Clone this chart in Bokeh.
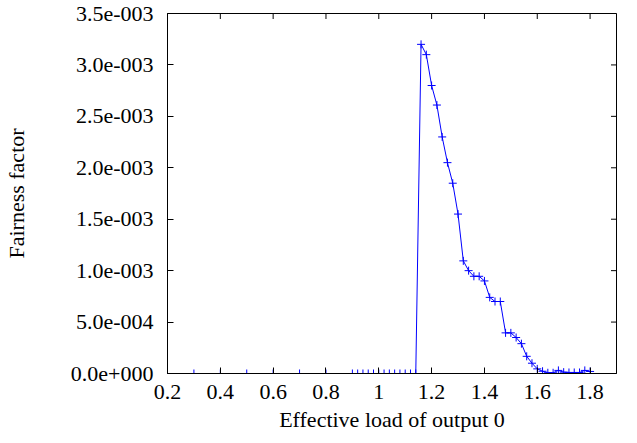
from bokeh.plotting import figure
from bokeh.models import FixedTicker, CustomJSTickFormatter, Range1d
from bokeh.embed import file_html
from bokeh.resources import INLINE

# ---- data ----
load = [0.2, 0.3, 0.4, 0.5, 0.6, 0.7, 0.8,
        0.9, 0.92, 0.94, 0.96, 0.98, 1.0, 1.02, 1.04, 1.06, 1.08, 1.10, 1.12, 1.14,
        1.16, 1.18, 1.20, 1.22, 1.24, 1.26, 1.28, 1.30, 1.32, 1.34, 1.36, 1.38,
        1.40, 1.42, 1.44, 1.46, 1.48, 1.50, 1.52, 1.54, 1.56, 1.58, 1.60, 1.62,
        1.64, 1.66, 1.68, 1.70, 1.72, 1.74, 1.76, 1.78, 1.80]
fairness = [0, 0, 0, 0, 0, 0, 0,
            0, 0, 0, 0, 0, 0, 0, 0, 0, 0, 0, 0, 0,
            3.20e-3, 3.10e-3, 2.80e-3, 2.61e-3, 2.30e-3, 2.05e-3, 1.85e-3, 1.55e-3,
            1.095e-3, 1.00e-3, 0.945e-3, 0.945e-3, 0.90e-3, 0.74e-3, 0.70e-3, 0.70e-3,
            0.395e-3, 0.395e-3, 0.35e-3, 0.29e-3, 0.167e-3, 0.10e-3, 0.045e-3, 0.022e-3,
            0.007e-3, 0.007e-3, 0.03e-3, 0.013e-3, 0.01e-3, 0.01e-3, 0.01e-3, 0.03e-3, 0.02e-3]
x_ticks = [0.2, 0.4, 0.6, 0.8, 1.0, 1.2, 1.4, 1.6, 1.8]
y_ticks = [0.0, 0.5e-3, 1.0e-3, 1.5e-3, 2.0e-3, 2.5e-3, 3.0e-3, 3.5e-3]
x_min, x_max = 0.2, 1.9
y_min, y_max = 0.0, 3.5e-3

FONT = "Liberation Serif"
FS = "22px"
BLUE = "#0000ff"

p = figure(width=637, height=443, output_backend="svg", toolbar_location=None,
           x_range=Range1d(x_min, x_max), y_range=Range1d(y_min, y_max),
           min_border_left=165, min_border_right=21, min_border_top=13,
           min_border_bottom=70, x_axis_label="Effective load of output 0",
           y_axis_label="Fairness factor")
p.grid.visible = False
p.outline_line_color = "black"
p.outline_line_width = 1
p.background_fill_color = "white"
p.border_fill_color = "white"

xfmt = CustomJSTickFormatter(code="return String(Math.round(tick*10)/10);")
yfmt = CustomJSTickFormatter(code="""
if (Math.abs(tick) < 1e-12) return "0.0e+000";
const e = Math.floor(Math.log10(Math.abs(tick)) + 1e-9);
const m = tick / Math.pow(10, e);
const s = e < 0 ? "-" : "+";
return m.toFixed(1) + "e" + s + String(Math.abs(e)).padStart(3, "0");
""")

for ax, ticks, fmt in [(p.xaxis[0], x_ticks, xfmt), (p.yaxis[0], y_ticks, yfmt)]:
    ax.ticker = FixedTicker(ticks=ticks)
    ax.formatter = fmt
    ax.major_tick_in = 6
    ax.major_tick_out = 0
    ax.minor_tick_line_color = None
    ax.axis_line_color = "black"
    ax.major_tick_line_color = "black"
    ax.major_label_text_font = FONT
    ax.major_label_text_font_size = FS
    ax.major_label_text_color = "black"
    ax.axis_label_text_font = FONT
    ax.axis_label_text_font_size = FS
    ax.axis_label_text_font_style = "normal"
    ax.axis_label_text_color = "black"

p.xaxis[0].major_label_standoff = 11
p.xaxis[0].axis_label_standoff = 5
p.yaxis[0].major_label_standoff = 14
p.yaxis[0].axis_label_standoff = 39

# mirrored inward ticks on top and right edges (half clipped by the frame)
p.scatter(x_ticks, [y_max] * len(x_ticks), marker="dash", angle=1.5708, size=11,
          line_color="black", line_width=1)
p.scatter([x_max] * len(y_ticks), y_ticks, marker="dash", size=11,
          line_color="black", line_width=1)

p.line(load, fairness, line_color=BLUE, line_width=1)
p.scatter(load, fairness, marker="cross", size=8, line_color=BLUE, line_width=1)

open("out.html", "w").write(file_html(p, INLINE))
